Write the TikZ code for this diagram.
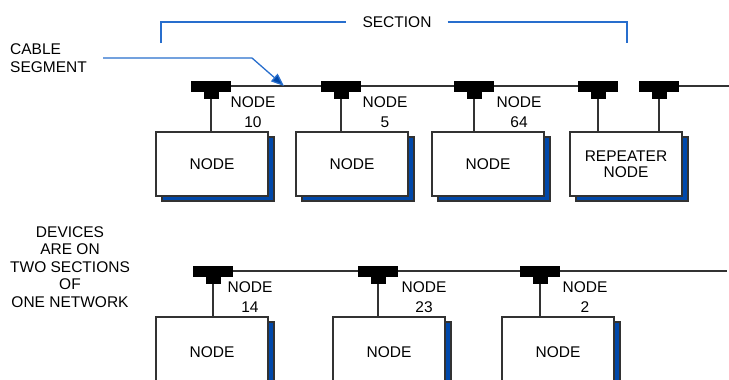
\documentclass[tikz,border=0pt]{standalone}
\usepackage{fontspec}
\setmainfont{Liberation Sans}
\usetikzlibrary{positioning, shadows, arrows.meta, calc, backgrounds}
\definecolor{CableGray}{RGB}{50,50,50}
\definecolor{BracketBlue}{RGB}{40,110,205}
\definecolor{ShadowBlue}{RGB}{0,72,170}

\begin{document}
\begin{tikzpicture}[
    x=1pt, y=-1pt,
    font=\fontsize{15.5}{17.5}\selectfont,
    station/.style={draw=CableGray, fill=white, line width=1.3pt, minimum width=112pt, minimum height=64pt, inner sep=0pt,
      copy shadow={fill=ShadowBlue, draw=CableGray, line width=1.3pt, shadow xshift=6pt, shadow yshift=-5pt}},
    tapbar/.style={fill=black, minimum width=40pt, minimum height=11pt, inner sep=0pt},
    tapneck/.style={fill=black, minimum width=15pt, minimum height=7pt, inner sep=0pt, anchor=north},
    cable/.style={CableGray, line width=1.6pt},
    stem/.style={CableGray, line width=1.3pt},
    tag/.style={align=center, font=\fontsize{15.5}{20}\selectfont, inner sep=0pt},
    bracket/.style={BracketBlue, line width=1.3pt},
    pointer/.style={BracketBlue, line width=1.3pt, -{Triangle[length=13pt, width=10pt, fill=ShadowBlue]}}
  ]
    \clip (0,0) rectangle (729,380);

    % Section bracket
    \node[inner ysep=0pt, inner xsep=16pt] (section) at (397,22) {SECTION};
    \coordinate (secL) at (161,43);
    \coordinate (secR) at (627,43);
    \draw[bracket] (secL) |- (section.west);
    \draw[bracket] (section.east) -| (secR);

    % Cable segment pointer
    \node[align=left, anchor=west, inner sep=0pt] (segtext) at (10,58) {CABLE\\SEGMENT};
    \coordinate (segstart) at (103,58);
    \coordinate (segbend) at (252,58);
    \coordinate (segtip) at (284,86);
    \draw[pointer] (segstart) -- (segbend) -- (segtip);

    % Upper section: nodes
    \foreach \nm/\bx/\tx/\lx/\num in {a/212/211/253/10, b/352/341/385/5, c/488/474/519/64} {
      \node[station] (box\nm) at (\bx,164) {NODE};
      \node[tapbar] (tap\nm) at (\tx,86) {};
      \node[tapneck] (neck\nm) at (tap\nm.south) {};
      \draw[stem] (neck\nm.south) -- (neck\nm.south |- box\nm.north);
      \node[tag] at (\lx,112) {NODE\\\num};
    }

    % Repeater
    \node[station, align=center, font=\fontsize{15.5}{15.5}\selectfont] (boxr) at (626,164) {REPEATER\\NODE};
    \foreach \nm/\tx in {r1/598, r2/659} {
      \node[tapbar] (tap\nm) at (\tx,86) {};
      \node[tapneck] (neck\nm) at (tap\nm.south) {};
      \draw[stem] (neck\nm.south) -- (neck\nm.south |- boxr.north);
    }
    \coordinate (topend) at (729,86);

    % Lower section: nodes
    \foreach \nm/\bx/\tx/\lx/\num in {d/212/213/250/14, e/389/378/424/23, f/558/540/585/2} {
      \node[station] (box\nm) at (\bx,349) {};
      \node at (\bx,352) {NODE};
      \node[tapbar] (tap\nm) at (\tx,271) {};
      \node[tapneck] (neck\nm) at (tap\nm.south) {};
      \draw[stem] (neck\nm.south) -- (neck\nm.south |- box\nm.north);
      \node[tag] at (\lx,297) {NODE\\\num};
    }
    \coordinate (botend) at (727,271);

    % Cables
    \begin{scope}[on background layer]
      \draw[cable] (tapa.west) -- (tapr1.east);
      \draw[cable] (tapr2.west) -- (topend);
      \draw[cable] (tapd.west) -- (botend);
    \end{scope}

    % Caption
    \node[align=center, inner sep=0pt] (devices) at (70,267) {DEVICES\\ARE ON\\TWO SECTIONS\\OF\\ONE NETWORK};
\end{tikzpicture}
\end{document}
